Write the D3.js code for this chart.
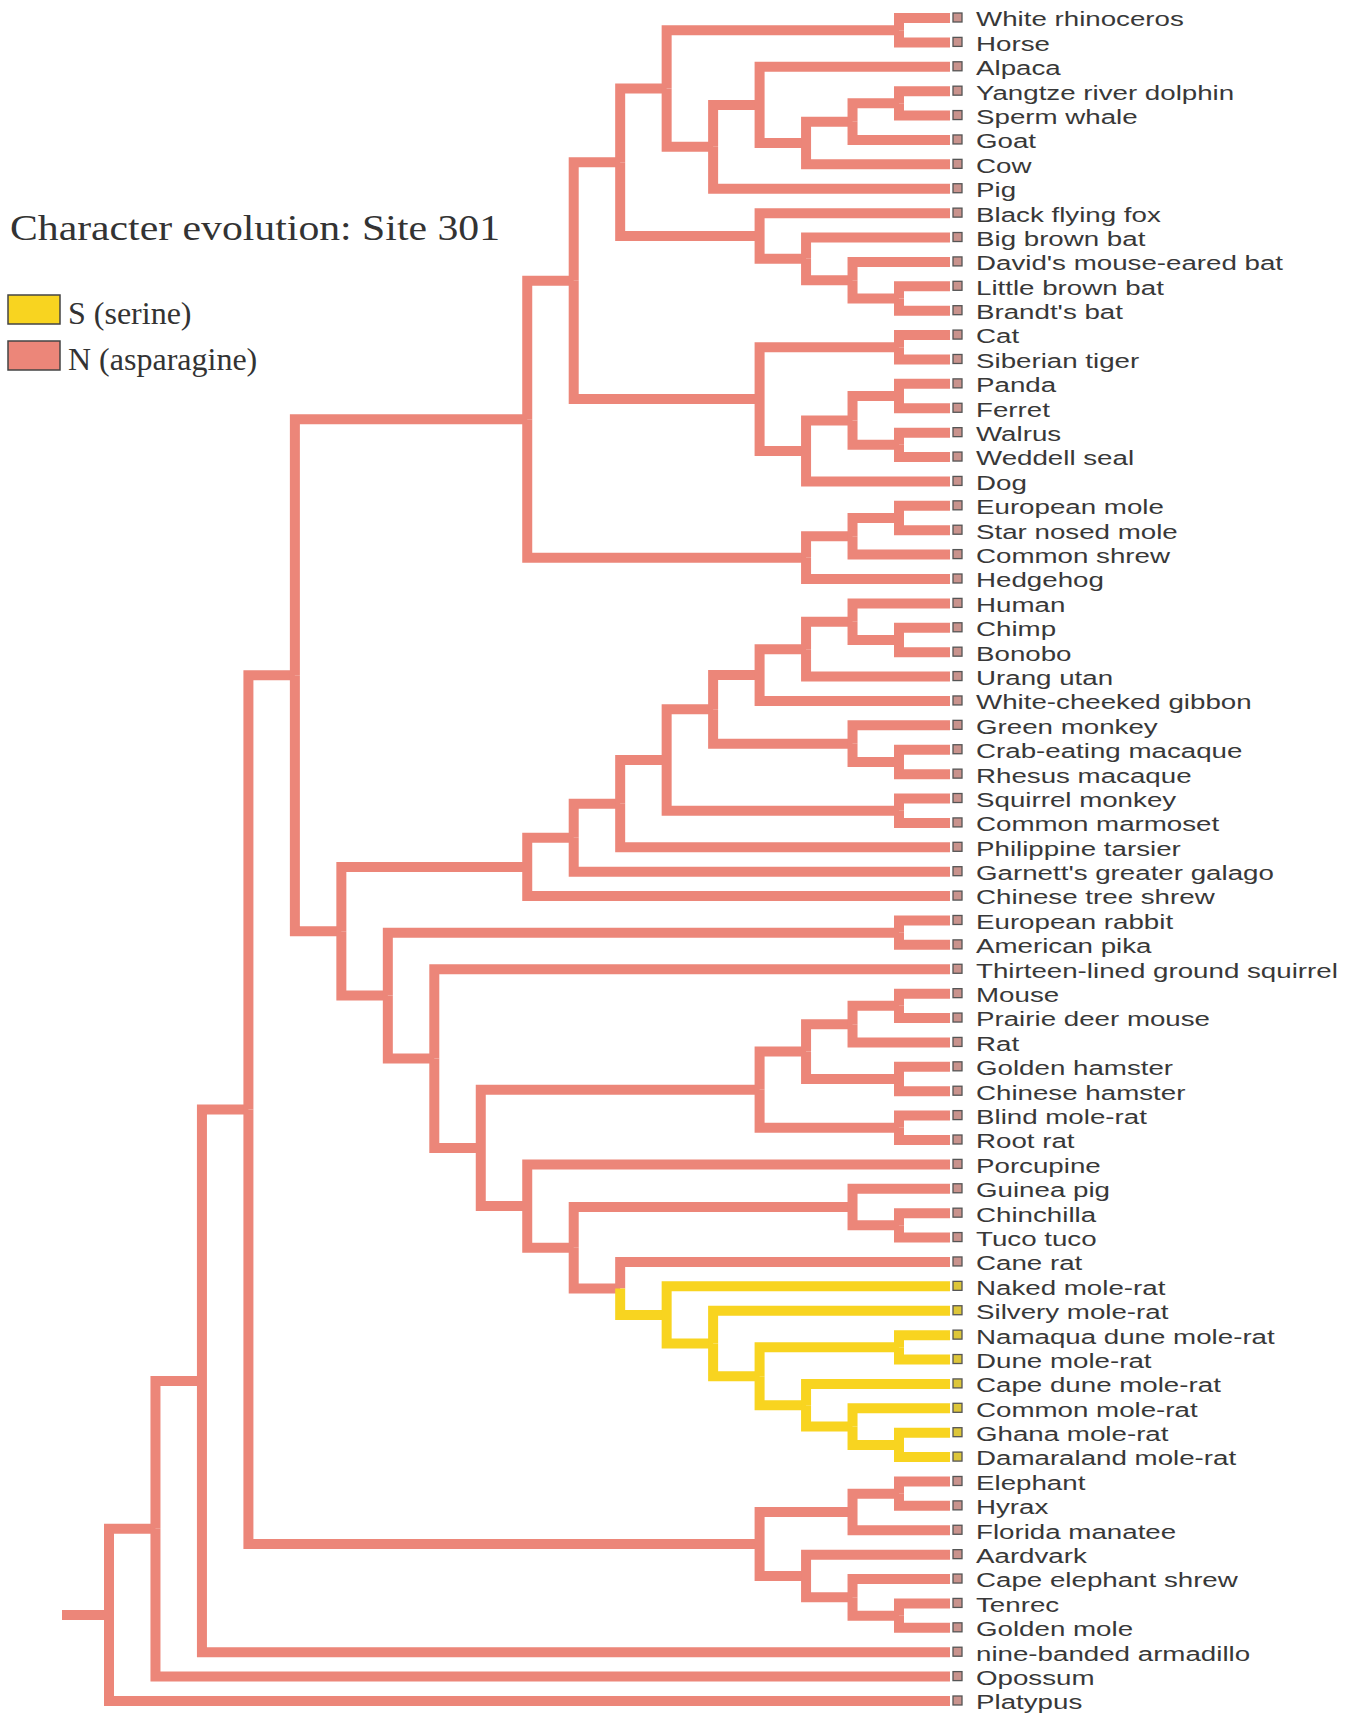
<!DOCTYPE html>
<html>
<head>
<meta charset="utf-8">
<script src="https://cdn.jsdelivr.net/npm/d3@7"></script>
<style>
    body { margin: 0; background: #fff; }
    svg { display: block; }
</style>
</head>
<body>
<svg id="chart" width="1355" height="1715"></svg>
<script>
// clades, top to bottom as drawn
const perissodactyla = ["White rhinoceros", "Horse"]
const cetartiodactyla = [["Alpaca", [[["Yangtze river dolphin", "Sperm whale"], "Goat"], "Cow"]], "Pig"]
const bats = ["Black flying fox", ["Big brown bat", ["David's mouse-eared bat", ["Little brown bat", "Brandt's bat"]]]]
const carnivores = [["Cat", "Siberian tiger"], [[["Panda", "Ferret"], ["Walrus", "Weddell seal"]], "Dog"]]
const eulipotyphla = [[["European mole", "Star nosed mole"], "Common shrew"], "Hedgehog"]
const laurasiatheria = [[[[perissodactyla, cetartiodactyla], bats], carnivores], eulipotyphla]

const apes = [[["Human", ["Chimp", "Bonobo"]], "Urang utan"], "White-cheeked gibbon"]
const oldWorldMonkeys = ["Green monkey", ["Crab-eating macaque", "Rhesus macaque"]]
const newWorldMonkeys = ["Squirrel monkey", "Common marmoset"]
const primates = [[[[apes, oldWorldMonkeys], newWorldMonkeys], "Philippine tarsier"], "Garnett's greater galago"]
const euarchonta = [primates, "Chinese tree shrew"]

const lagomorpha = ["European rabbit", "American pika"]
const myomorpha = [[[["Mouse", "Prairie deer mouse"], "Rat"], ["Golden hamster", "Chinese hamster"]], ["Blind mole-rat", "Root rat"]]
const bathyergidae = ["Naked mole-rat", ["Silvery mole-rat", [["Namaqua dune mole-rat", "Dune mole-rat"],
    ["Cape dune mole-rat", ["Common mole-rat", ["Ghana mole-rat", "Damaraland mole-rat"]]]]]]
const hystricomorpha = ["Porcupine", [["Guinea pig", ["Chinchilla", "Tuco tuco"]], ["Cane rat", bathyergidae]]]
const rodentia = ["Thirteen-lined ground squirrel", [myomorpha, hystricomorpha]]
const glires = [lagomorpha, rodentia]

const afrotheria = [[["Elephant", "Hyrax"], "Florida manatee"], ["Aardvark", ["Cape elephant shrew", ["Tenrec", "Golden mole"]]]]

const tree = [[[[[laurasiatheria, [euarchonta, glires]], afrotheria], "nine-banded armadillo"], "Opossum"], "Platypus"]

// character states at site 301
const serineTaxa = ["Naked mole-rat", "Silvery mole-rat", "Namaqua dune mole-rat", "Dune mole-rat",
    "Cape dune mole-rat", "Common mole-rat", "Ghana mole-rat", "Damaraland mole-rat"]
const states = ["S (serine)", "N (asparagine)"]
const stateColors = ["#f8d420", "#ec8679"]
const squareColors = ["#ddc63a", "#c9938d"]

const title = "Character evolution: Site 301"

const svg = d3.select("#chart")

let root = d3.hierarchy(tree, datum => Array.isArray(datum) ? datum : null),
    leafCount = root.leaves().length

d3.cluster()
    .size([leafCount, root.height])
    .separation(() => 1)(root)

root.eachAfter(node => {
    node.state = node.children
        ? (node.children.every(child => child.state === 0) ? 0 : 1)
        : (serineTaxa.includes(node.data) ? 0 : 1)
})

let yScale = d3.scaleLinear()
        .domain([0.5, leafCount - 0.5])
        .range([18, 1701]),
    xScale = d3.scaleLinear()
        .domain([0, 1, root.height])
        .range([950, 899, 109]),
    colour = d3.scaleOrdinal().domain([0, 1]).range(stateColors)

// branches
let branches = svg.append("g")
    .attr("fill", "none")
    .attr("stroke-width", 10)
    .attr("stroke-linejoin", "miter")

branches.append("path")
    .attr("d", `M62,${yScale(root.x)}H${xScale(root.height)}`)
    .attr("stroke", colour(root.state))

branches.selectAll("path.branch")
    .data(root.descendants().filter(node => node.parent))
    .join("path")
    .attr("class", "branch")
    .attr("stroke", node => colour(node.state))
    .attr("d", node => `M${xScale(node.parent.height)},${yScale(node.parent.x)}V${yScale(node.x)}H${xScale(node.height)}`)

// tips
let tips = svg.append("g")
    .selectAll("g")
    .data(root.leaves())
    .join("g")
    .attr("transform", node => `translate(0, ${yScale(node.x)})`)

tips.append("rect")
    .attr("x", 953)
    .attr("y", -5)
    .attr("width", 9)
    .attr("height", 9)
    .attr("fill", node => squareColors[node.state])
    .attr("stroke", "#555")
    .attr("stroke-width", 1.3)

tips.append("text")
    .attr("x", 976)
    .attr("dy", "0.42em")
    .style("font-family", "'Liberation Sans', Arial, sans-serif")
    .style("font-size", "20px")
    .attr("fill", "#383838")
    .text(node => node.data)
    .each(function() {
        let natural = this.getComputedTextLength()
        d3.select(this)
            .attr("textLength", natural * 1.385)
            .attr("lengthAdjust", "spacingAndGlyphs")
    })

// title
svg.append("text")
    .attr("x", 10)
    .attr("y", 240)
    .attr("textLength", 490)
    .attr("lengthAdjust", "spacingAndGlyphs")
    .style("font-family", "'Liberation Serif', 'Times New Roman', serif")
    .style("font-size", "35px")
    .attr("fill", "#333")
    .text(title)

// legend
let legendRows = svg.append("g")
    .selectAll("g")
    .data(states)
    .join("g")
    .attr("transform", (datum, index) => `translate(8, ${295 + index * 46})`)

legendRows.append("rect")
    .attr("width", 52)
    .attr("height", 29)
    .attr("fill", (datum, index) => stateColors[index])
    .attr("stroke", "#444")
    .attr("stroke-width", 1.5)

legendRows.append("text")
    .attr("x", 60)
    .attr("y", 29)
    .style("font-family", "'Liberation Serif', 'Times New Roman', serif")
    .style("font-size", "32px")
    .attr("fill", "#333")
    .text(datum => datum)
</script>
</body>
</html>
